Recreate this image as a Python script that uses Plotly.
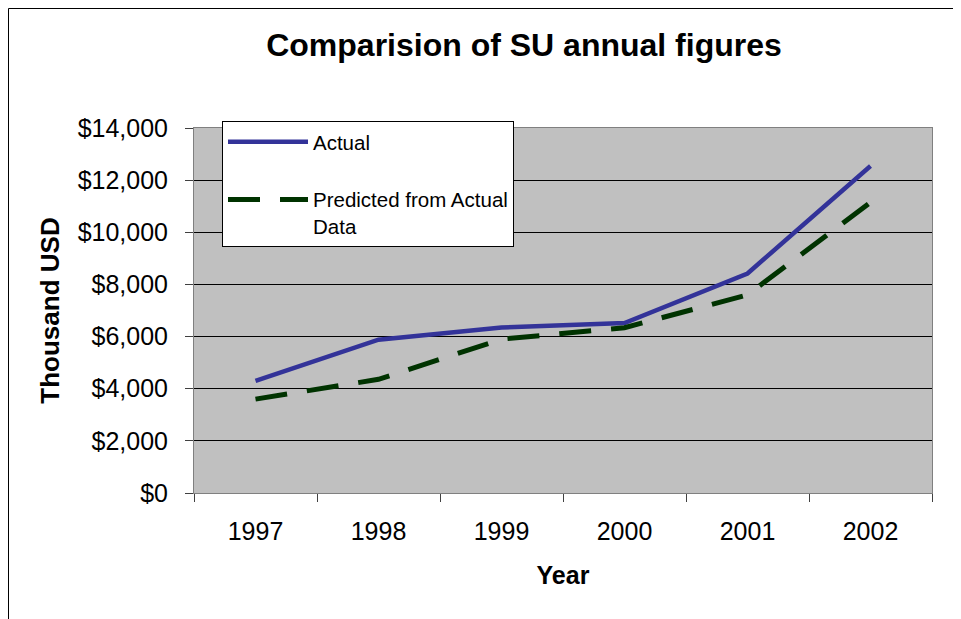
import plotly.graph_objects as go

years = ["1997", "1998", "1999", "2000", "2001", "2002"]
actual = [4300, 5880, 6350, 6520, 8420, 12540]
predicted = [3600, 4360, 5900, 6340, 7600, 11150]
y_ticks = [0, 2000, 4000, 6000, 8000, 10000, 12000, 14000]
y_tick_text = [f"${v:,}" for v in y_ticks]

FONT = "Liberation Sans, Arial, sans-serif"

# plot area in figure pixels
L, R, T, B = 186, 924, 120, 485
W, H = 961, 619
PW, PH = R - L, B - T

fig = go.Figure()
fig.add_trace(go.Scatter(
    x=years, y=actual, mode="lines", name="Actual",
    line=dict(color="#333399", width=4.5), legendgroup="a"))
fig.add_trace(go.Scatter(
    x=years, y=predicted, mode="lines", name="Predicted from Actual<br>Data",
    line=dict(color="#003300", width=5, dash="32px,20px"), legendgroup="b"))

fig.update_layout(
    width=W, height=H, autosize=False,
    margin=dict(l=L, r=W - R, t=T, b=H - B),
    paper_bgcolor="white", plot_bgcolor="#C0C0C0",
    font=dict(family=FONT, color="black"),
    title=dict(text="Comparision of SU annual figures", x=516 / W, xanchor="center",
               y=1 - 37 / H, yanchor="middle",
               font=dict(size=32, family=FONT, weight="bold", color="black")),
    legend=dict(x=(214 - L) / PW, y=(B - 113) / PH, xanchor="left", yanchor="top",
                bgcolor="white", bordercolor="black", borderwidth=1,
                font=dict(size=20.5, family=FONT), itemwidth=80,
                tracegroupgap=28, valign="top", traceorder="grouped"),
    xaxis=dict(type="category", categoryorder="array", categoryarray=years,
               range=[-0.5, 5.5], tickson="boundaries", ticks="outside", ticklen=8,
               tickcolor="#404040", showgrid=False, showline=True, linecolor="#808080",
               linewidth=1, mirror=True, tickfont=dict(size=25), ticklabelstandoff=16,
               title=dict(text="Year", font=dict(size=25, weight="bold"), standoff=22)),
    yaxis=dict(range=[0, 14000], tickmode="array", tickvals=y_ticks, ticktext=y_tick_text,
               ticks="outside", ticklen=8, tickcolor="#404040",
               showgrid=True, gridcolor="black", gridwidth=1,
               showline=True, linecolor="#808080", linewidth=1, mirror=True,
               zeroline=False, tickfont=dict(size=25), ticklabelstandoff=12,
               title=dict(text="Thousand USD", font=dict(size=26, weight="bold"), standoff=10)),
    shapes=[dict(type="rect", xref="paper", yref="paper",
                 x0=(0.5 - L) / PW, x1=(946 - L) / PW,
                 y0=(B - 700) / PH, y1=(B - 0.5) / PH,
                 line=dict(color="black", width=1), fillcolor="rgba(0,0,0,0)",
                 layer="below")],
)

fig.write_html("out.html")
